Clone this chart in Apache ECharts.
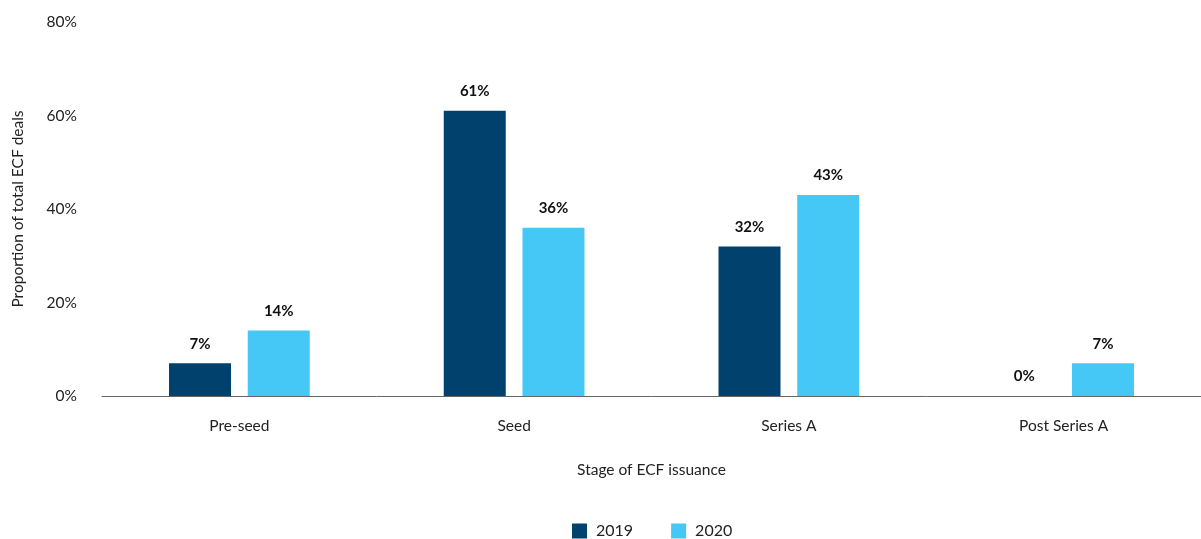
<!DOCTYPE html>
<html>
<head>
<meta charset="utf-8">
<script src="https://cdn.jsdelivr.net/npm/echarts@6/dist/echarts.min.js"></script>
<style>
  html, body { margin: 0; padding: 0; background: #fff; }
  #chart { width: 1201px; height: 539px; }
</style>
</head>
<body>
<div id="chart"></div>
<script>
// Stages of ECF issuance and share of deals per year (%)
const stages = ['Pre-seed', 'Seed', 'Series A', 'Post Series A'];
const values2019 = [7, 61, 32, 0];
const values2020 = [14, 36, 43, 7];
const seriesNames = ['2019', '2020'];
const yTicks = [0, 20, 40, 60, 80];

const FONT = 'Lato, "Noto Sans", sans-serif';
const TEXT = '#222';

const chart = echarts.init(document.getElementById('chart'), null, { renderer: 'canvas' });

const labelStyle = {
  show: true,
  position: 'top',
  distance: 12,
  formatter: p => p.value + '%',
  fontFamily: FONT,
  fontWeight: 'bold',
  fontSize: 15,
  color: '#111'
};

chart.setOption({
  animation: false,
  textStyle: { fontFamily: FONT },
  grid: {
    left: 102, right: 0, top: 22, bottom: 143,
    containLabel: false,
    outerBoundsMode: 'none'
  },
  legend: {
    data: seriesNames,
    top: 518,
    left: 567,
    padding: 5,
    itemWidth: 15,
    itemHeight: 15,
    itemGap: 38,
    icon: 'rect',
    textStyle: { fontFamily: FONT, fontSize: 16, color: TEXT, padding: [0, 0, 0, 4] }
  },
  xAxis: {
    type: 'category',
    data: stages,
    name: 'Stage of ECF issuance',
    nameLocation: 'middle',
    nameGap: 66,
    nameTextStyle: { fontFamily: FONT, fontSize: 15.5, color: TEXT },
    axisLine: { lineStyle: { color: '#666', width: 1 } },
    axisTick: { show: false },
    axisLabel: { fontFamily: FONT, fontSize: 15.5, color: TEXT, margin: 22 }
  },
  yAxis: {
    type: 'value',
    min: yTicks[0],
    max: yTicks[yTicks.length - 1],
    interval: 20,
    name: 'Proportion of total ECF deals',
    nameLocation: 'middle',
    nameGap: 76,
    nameTextStyle: { fontFamily: FONT, fontSize: 15.5, color: TEXT },
    axisLine: { show: false },
    axisTick: { show: false },
    splitLine: { show: false },
    axisLabel: { fontFamily: FONT, fontSize: 15.5, color: TEXT, margin: 25, formatter: v => v + '%' }
  },
  series: [
    {
      name: seriesNames[0],
      type: 'bar',
      data: values2019,
      barWidth: 62,
      barGap: '27%',
      itemStyle: { color: '#00416e' },
      label: labelStyle
    },
    {
      name: seriesNames[1],
      type: 'bar',
      data: values2020,
      barWidth: 62,
      itemStyle: { color: '#45c8f5' },
      label: labelStyle
    }
  ]
});
</script>
</body>
</html>
